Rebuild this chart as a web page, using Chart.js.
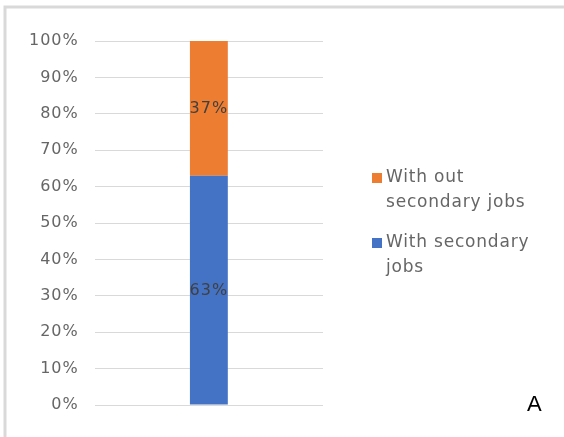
<!DOCTYPE html>
<html>
<head>
<meta charset="utf-8">
<script src="https://cdn.jsdelivr.net/npm/chart.js@4"></script>
<style>
  html, body { margin: 0; padding: 0; background: #fff; overflow: hidden; }
  #wrap { position: relative; width: 564px; height: 437px; }
  canvas { display: block; }
</style>
</head>
<body>
<div id="wrap"><canvas id="chart" width="564" height="437"></canvas></div>
<script>
const categories = [''];
const seriesNames = ['With secondary jobs', 'Without secondary jobs'];
const legendLines = [['With secondary', 'jobs'], ['With out', 'secondary jobs']];
const withSecondary = [63];
const withoutSecondary = [37];
const yTicks = [0, 10, 20, 30, 40, 50, 60, 70, 80, 90, 100];

const BLUE = '#4472C4';
const ORANGE = '#ED7D31';
const TEXT = '#666666';
const FONT = '"DejaVu Sans", sans-serif';

// frame lines + the "A" mark + the wrapped legend on the right
const extras = {
  id: 'extras',
  beforeUpdate(chart) { chart.ctx.letterSpacing = '1px'; },
  beforeDraw(chart) {
    const c = chart.ctx;
    c.letterSpacing = '1px';
    c.save();
    c.strokeStyle = '#d9d9d9';
    c.lineWidth = 3;
    c.beginPath();
    c.moveTo(600, 7);
    c.lineTo(5, 7);
    c.lineTo(5, 437);
    c.stroke();
    c.restore();
  },
  afterDraw(chart) {
    const c = chart.ctx;
    c.save();
    // legend, topmost series first
    const order = [1, 0];
    let y = 178;
    order.forEach(i => {
      const ds = chart.data.datasets[i];
      c.fillStyle = ds.backgroundColor;
      c.fillRect(372, y - 5, 10, 10);
      c.fillStyle = TEXT;
      c.font = '17px ' + FONT;
      c.letterSpacing = '0.8px';
      c.textBaseline = 'middle';
      c.textAlign = 'left';
      legendLines[i].forEach((ln, k) => {
        c.fillText(ln, 386, y + k * 25);
      });
      y += 65;
    });
    c.letterSpacing = '0px';
    c.fillStyle = '#000';
    c.font = '22px "Liberation Sans", Arial, sans-serif';
    c.textAlign = 'left';
    c.fillText('A', 527, 405);

    // value labels centred in each segment
    c.letterSpacing = '1px';
    c.font = '16px ' + FONT;
    c.fillStyle = '#404040';
    c.textAlign = 'center';
    chart.data.datasets.forEach((ds, i) => {
      chart.getDatasetMeta(i).data.forEach((bar, j) => {
        const mid = (bar.y + bar.base) / 2;
        c.fillText(ds.data[j] + '%', bar.x, mid + 1);
      });
    });
    c.restore();
  }
};

new Chart(document.getElementById('chart'), {
  type: 'bar',
  data: {
    labels: categories,
    datasets: [
      { label: seriesNames[0], data: withSecondary, backgroundColor: BLUE },
      { label: seriesNames[1], data: withoutSecondary, backgroundColor: ORANGE }
    ]
  },
  options: {
    responsive: false,
    animation: false,
    devicePixelRatio: 1,
    layout: { padding: { left: 13, right: 241, top: 41, bottom: 32 } },
    datasets: { bar: { categoryPercentage: 1, barPercentage: 0.166 } },
    scales: {
      x: { stacked: true, display: false },
      y: {
        stacked: true,
        min: 0,
        max: 100,
        afterBuildTicks(axis) { axis.ticks = yTicks.map(v => ({ value: v })); },
        border: { display: false },
        grid: { color: '#d9d9d9', drawTicks: false },
        ticks: {
          color: TEXT,
          padding: 16,
          font: { family: FONT, size: 16 },
          callback: v => v + '%'
        }
      }
    },
    plugins: { legend: { display: false }, tooltip: { enabled: false } }
  },
  plugins: [extras]
});
</script>
</body>
</html>
